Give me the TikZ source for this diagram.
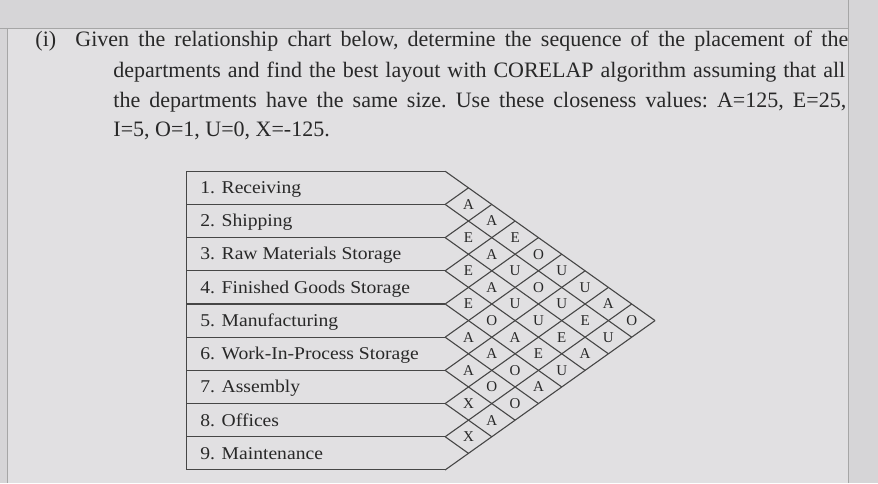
\documentclass[tikz,border=0pt]{standalone}
\usepackage{fontspec}
\setmainfont{Liberation Serif}
\newfontfamily\deptfont{Liberation Serif}[FakeStretch=1.09]
\usepackage{tikz}

\definecolor{paper}{RGB}{214,213,215}
\definecolor{sheet}{RGB}{225,224,226}
\definecolor{ink}{RGB}{40,40,40}
\definecolor{rule}{RGB}{70,70,70}

\tikzset{
  question/.style={anchor=base west, inner sep=0pt, text=ink, font=\fontsize{22}{26}\selectfont\frenchspacing},
  dept/.style={anchor=base west, inner sep=0pt, text=ink, font=\deptfont\fontsize{18}{20}\selectfont},
  rating/.style={inner sep=0pt, text=ink, font=\fontsize{15}{17}\selectfont},
  chartline/.style={draw=rule, line width=1.1pt}
}

\begin{document}
\begin{tikzpicture}[x=1pt, y=-1pt]
\fill[paper] (0, 0) rectangle (878, 483);
\fill[sheet] (7, 28) rectangle (848, 483);
\draw[gray!70, line width=0.6pt] (0, 28) -- (848, 28);
\draw[gray!70, line width=0.6pt] (7, 28) -- (7, 483);
\draw[gray!70, line width=0.6pt] (848, 0) -- (848, 483);

\node[question] (num) at (35, 46) {(i)};
\node[question] (q1) at (75, 46) {\makebox[773pt][s]{Given the relationship chart below, determine the sequence of the placement of the}};
\node[question] (q2) at (113, 77) {\makebox[732pt][s]{departments and find the best layout with CORELAP algorithm assuming that all}};
\node[question] (q3) at (113, 107) {\makebox[733pt][s]{the departments have the same size. Use these closeness values: A=125, E=25,}};
\node[question] (q4) at (113, 136) {I=5, O=1, U=0, X=-125.};

\draw[chartline] (186, 171) -- (186, 470);
\foreach \k in {0,...,9}{
  \draw[chartline] (186, {171+\k*33.2}) -- (445, {171+\k*33.2});
  \draw[chartline] (445, {171+\k*33.2}) -- ({445+(9-\k)*23.33}, {171+(9+\k)*16.6});
  \draw[chartline] (445, {171+\k*33.2}) -- ({445+\k*23.33}, {171+\k*16.6});
}

\node[dept] (d1) at (200, 193) {1. Receiving};
\node[dept] (d2) at (200, 226) {2. Shipping};
\node[dept] (d3) at (200, 259) {3. Raw Materials Storage};
\node[dept] (d4) at (200, 293) {4. Finished Goods Storage};
\node[dept] (d5) at (200, 326) {5. Manufacturing};
\node[dept] (d6) at (200, 359) {6. Work-In-Process Storage};
\node[dept] (d7) at (200, 392) {7. Assembly};
\node[dept] (d8) at (200, 426) {8. Offices};
\node[dept] (d9) at (200, 459) {9. Maintenance};

\foreach \i/\j/\r in {1/2/A, 1/3/A, 1/4/E, 1/5/O, 1/6/U, 1/7/U, 1/8/A, 1/9/O,
                      2/3/E, 2/4/A, 2/5/U, 2/6/O, 2/7/U, 2/8/E, 2/9/U,
                      3/4/E, 3/5/A, 3/6/U, 3/7/U, 3/8/E, 3/9/A,
                      4/5/E, 4/6/O, 4/7/A, 4/8/E, 4/9/U,
                      5/6/A, 5/7/A, 5/8/O, 5/9/A,
                      6/7/A, 6/8/O, 6/9/O,
                      7/8/X, 7/9/A,
                      8/9/X}
  \node[rating] (c\i\j) at ({445+(\j-\i)*23.33}, {171+(\i+\j-1)*16.6}) {\r};
\end{tikzpicture}
\end{document}
